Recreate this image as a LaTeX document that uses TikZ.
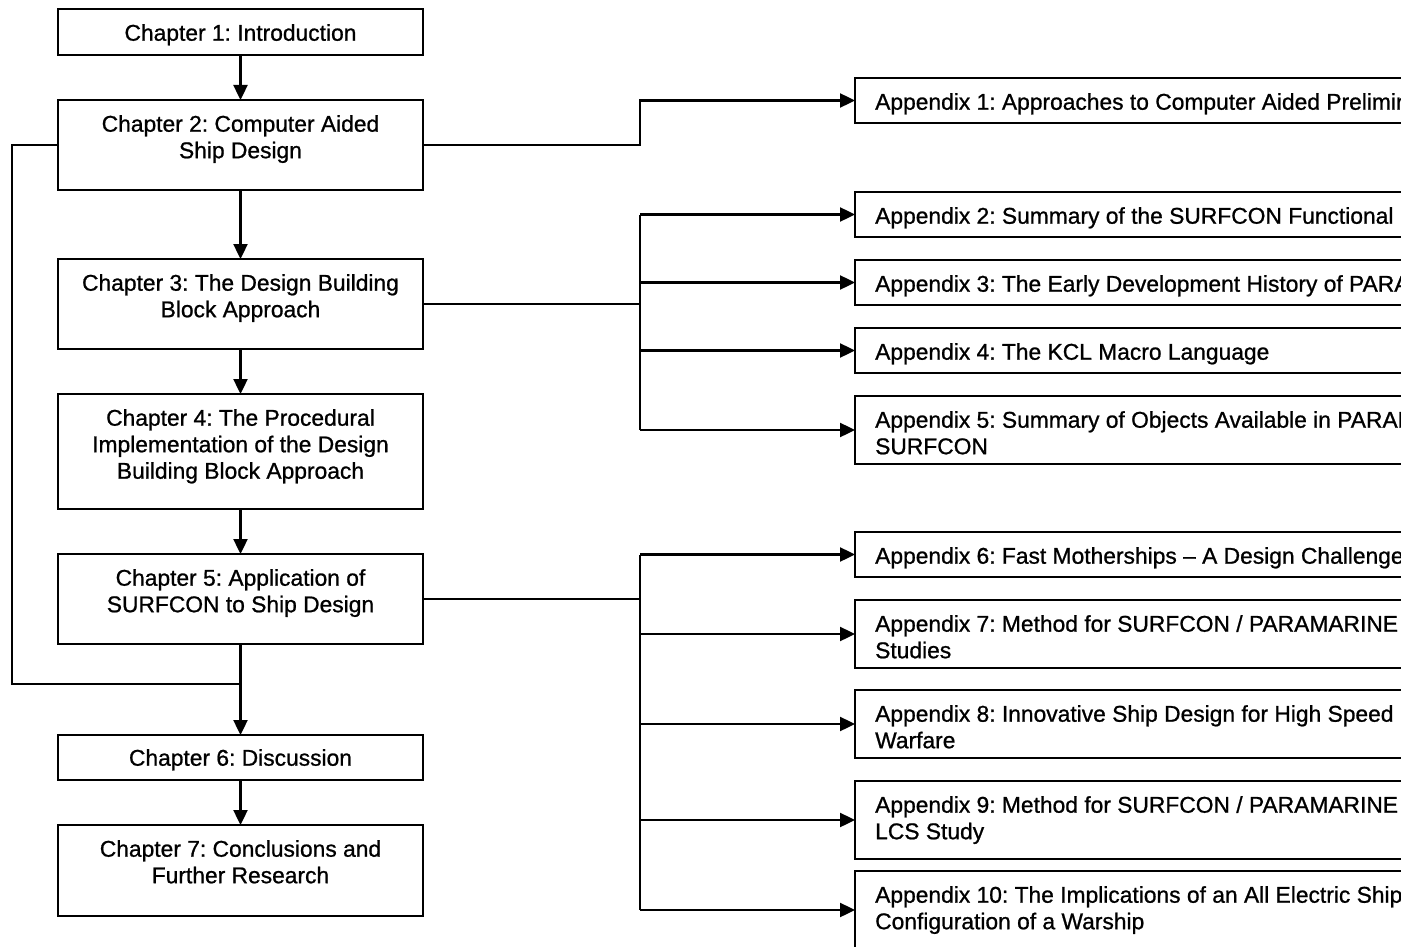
\documentclass[tikz,border=0pt]{standalone}
\usepackage{fontspec}
\setmainfont{Liberation Sans}[BoldFont={Liberation Sans}, BoldFeatures={FakeBold=0.9}]
\usetikzlibrary{arrows.meta}
\frenchspacing
\begin{document}
\begin{tikzpicture}[x=1pt,y={(0pt,-1pt)}]
\tikzset{
  frame/.style={draw, line width=2.4pt, inner sep=0pt, outer sep=0pt, anchor=north west},
  chap/.style={frame, minimum width=365pt},
  appx/.style={frame, minimum width=640pt},
  labelfont/.style={font=\fontsize{22.8}{26.5}\selectfont\bfseries},
  ctext/.style={labelfont, anchor=north, align=center, inner sep=0pt},
  atext/.style={labelfont, anchor=north west, align=left, inner sep=0pt},
  link/.style={line width=2.4pt},
  arr/.style={link, -{Triangle[length=15pt,width=14pt]}},
}
\useasboundingbox (0,0) rectangle (1401,947);
\clip (0,0) rectangle (1401,947);

% chapter column
\node[chap, minimum height=46pt] (c1) at (58,9) {};
\node[ctext] (c1t) at (240.5,24) {Chapter 1: Introduction};
\node[chap, minimum height=90pt] (c2) at (58,100) {};
\node[ctext] (c2t) at (240.5,115) {Chapter 2: Computer Aided\\Ship Design};
\node[chap, minimum height=90pt] (c3) at (58,259) {};
\node[ctext] (c3t) at (240.5,274) {Chapter 3: The Design Building\\Block Approach};
\node[chap, minimum height=115pt] (c4) at (58,394) {};
\node[ctext] (c4t) at (240.5,409) {Chapter 4: The Procedural\\Implementation of the Design\\Building Block Approach};
\node[chap, minimum height=90pt] (c5) at (58,554) {};
\node[ctext] (c5t) at (240.5,569) {Chapter 5: Application of\\SURFCON to Ship Design};
\node[chap, minimum height=45pt] (c6) at (58,735) {};
\node[ctext] (c6t) at (240.5,749) {Chapter 6: Discussion};
\node[chap, minimum height=91pt] (c7) at (58,825) {};
\node[ctext] (c7t) at (240.5,840) {Chapter 7: Conclusions and\\Further Research};

% appendix column
\node[appx, minimum height=45pt] (a1) at (855,78) {};
\node[atext] (a1t) at (875,93) {Appendix 1: Approaches to Computer Aided Preliminary};
\node[appx, minimum height=45pt] (a2) at (855,192) {};
\node[atext] (a2t) at (875,207) {Appendix 2: Summary of the SURFCON Functional};
\node[appx, minimum height=45pt] (a3) at (855,260) {};
\node[atext] (a3t) at (875,275) {Appendix 3: The Early Development History of PARAMARINE};
\node[appx, minimum height=45pt] (a4) at (855,328) {};
\node[atext] (a4t) at (875,343) {Appendix 4: The KCL Macro Language};
\node[appx, minimum height=68pt] (a5) at (855,396) {};
\node[atext] (a5t) at (875,411) {Appendix 5: Summary of Objects Available in PARAMARINE\\SURFCON};
\node[appx, minimum height=45pt] (a6) at (855,532) {};
\node[atext] (a6t) at (875,547) {Appendix 6: Fast Motherships -- A Design Challenge};
\node[appx, minimum height=68pt] (a7) at (855,600) {};
\node[atext] (a7t) at (875,615) {Appendix 7: Method for SURFCON / PARAMARINE\\Studies};
\node[appx, minimum height=68pt] (a8) at (855,690) {};
\node[atext] (a8t) at (875,705) {Appendix 8: Innovative Ship Design for High Speed\\Warfare};
\node[appx, minimum height=78pt] (a9) at (855,781) {};
\node[atext] (a9t) at (875,796) {Appendix 9: Method for SURFCON / PARAMARINE\\LCS Study};
\node[appx, minimum height=78pt] (a10) at (855,871) {};
\node[atext] (a10t) at (875,886) {Appendix 10: The Implications of an All Electric Ship\\Configuration of a Warship};

% main chain of chapters
\draw[arr] (c1) -- (c2);
\draw[arr] (c2) -- (c3);
\draw[arr] (c3) -- (c4);
\draw[arr] (c4) -- (c5);
\coordinate (j) at (240.5,684);
\draw[link] (c5.south) -- (j);
\draw[arr] (j) -- (c6.north);
\draw[arr] (c6) -- (c7);
% bypass from chapter 2 down to chapter 6
\draw[link] (c2.west) -- ++(-46,0) |- (j);

% branches to the appendices
\coordinate (bus) at (640,0);
\draw[arr] (c2.east) -- (c2.east -| bus) |- (a1.west);

\draw[link] (c3.east) -- (c3.east -| bus);
\draw[link] (a2.west -| bus) -- (a5.west -| bus);
\foreach \a in {a2,a3,a4,a5} \draw[arr] (\a.west -| bus) -- (\a.west);

\draw[link] (c5.east) -- (c5.east -| bus);
\draw[link] (a6.west -| bus) -- (a10.west -| bus);
\foreach \a in {a6,a7,a8,a9,a10} \draw[arr] (\a.west -| bus) -- (\a.west);
\end{tikzpicture}
\end{document}
